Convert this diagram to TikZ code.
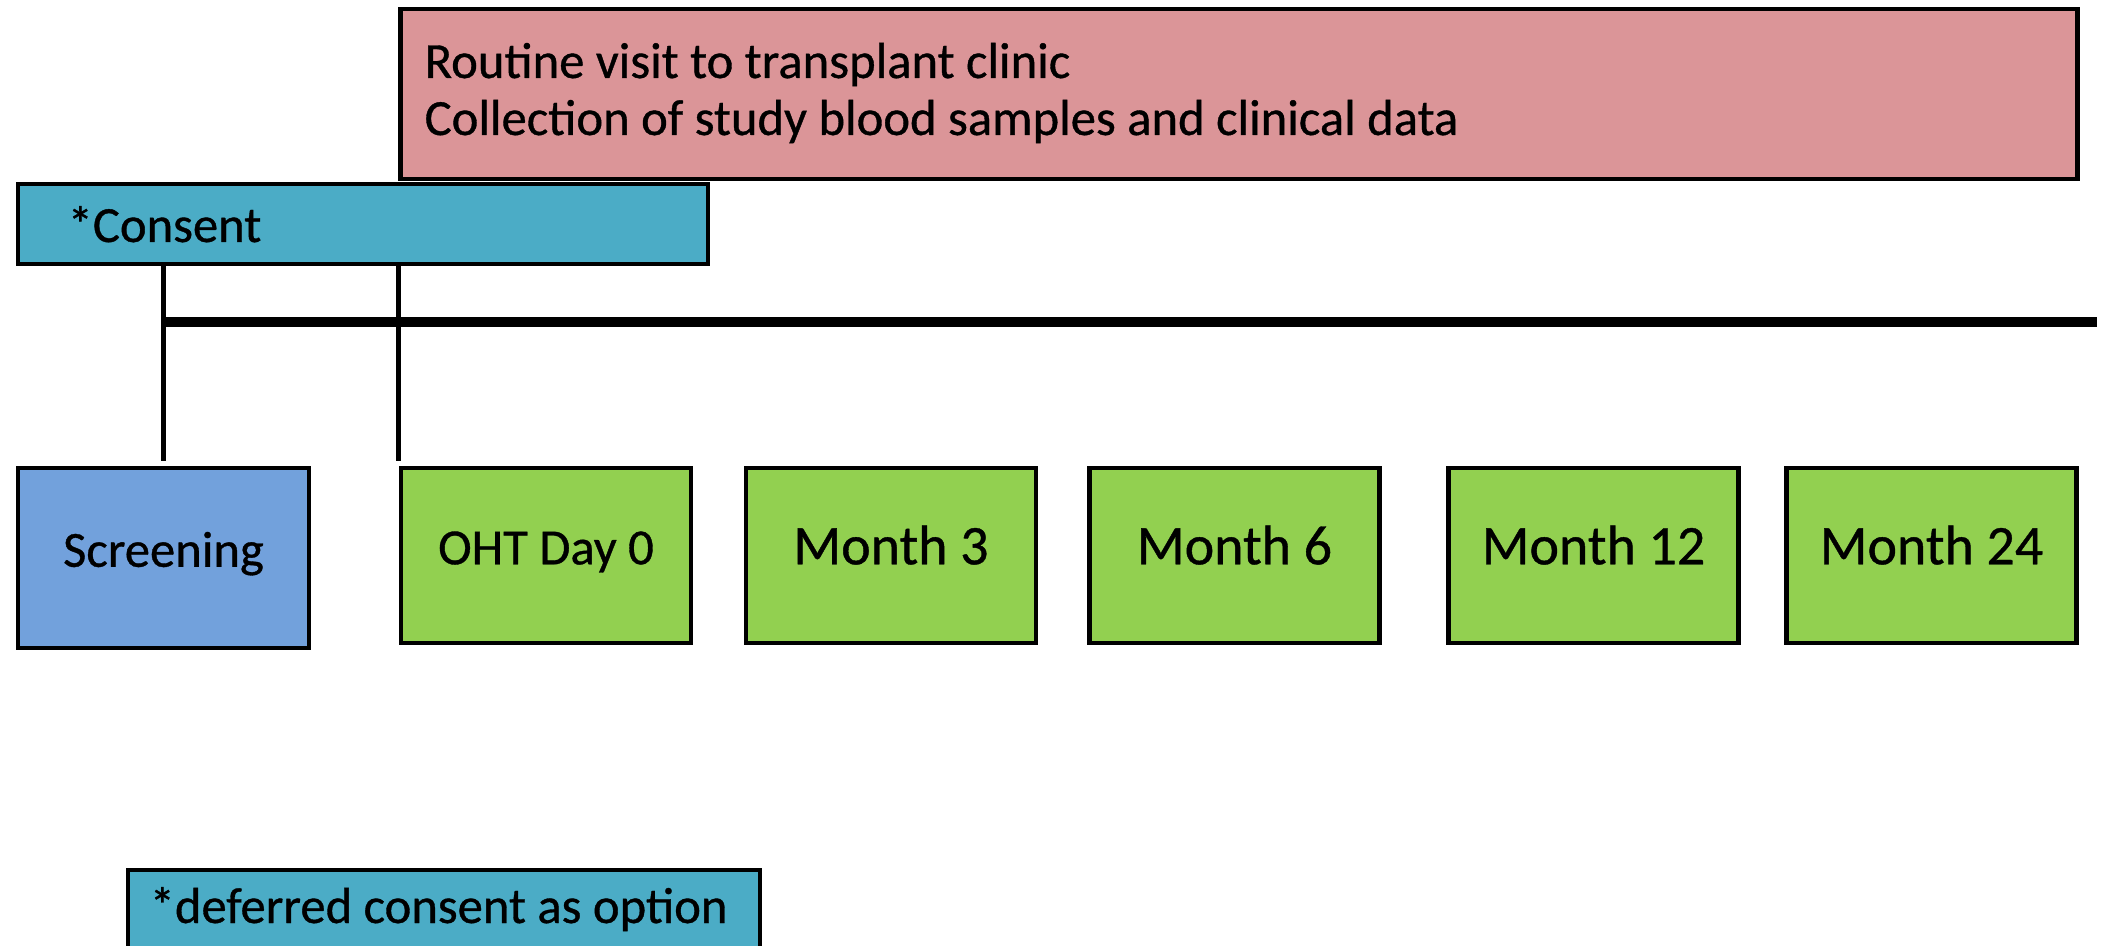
\documentclass[tikz,border=0pt]{standalone}
\usepackage{fontspec}
\setmainfont{Carlito}[FakeBold=0.7]
\definecolor{pinkfill}{RGB}{219,149,152}
\definecolor{aquafill}{RGB}{75,172,198}
\definecolor{bluefill}{RGB}{114,161,220}
\definecolor{greenfill}{RGB}{146,208,80}
\begin{document}
\begin{tikzpicture}[x=0.01cm,y=-0.01cm,
  box/.style={draw=black, line width=1.3pt, inner sep=0pt, text height=0.5em, text depth=0pt},
  lbl/.style={inner sep=0pt, font=\fontsize{14.4pt}{17pt}\selectfont},
  visitbox/.style={box, fill=greenfill, minimum width=2.9cm, minimum height=1.75cm, font=\fontsize{15.9pt}{19pt}\selectfont},
  conn/.style={draw=black, line width=1.4pt},
  rail/.style={draw=black, line width=2.6pt}]
\useasboundingbox (0,0) rectangle (2105,946);
\clip (0,0) rectangle (2105,946);
% top bars
\node[box, fill=pinkfill, minimum width=16.76cm, minimum height=1.70cm] (visit) at (1239,94) {};
\node[lbl, anchor=base west] (visitA) at (424,78) {Routine visit to transplant clinic};
\node[lbl, anchor=base west] (visitB) at (424,135) {Collection of study blood samples and clinical data};
\node[box, fill=aquafill, minimum width=6.90cm, minimum height=0.80cm] (consent) at (363,224) {};
\node[lbl, anchor=base west] (consentT) at (67,242) {*Consent};
% visit boxes
\node[box, fill=bluefill, minimum width=2.91cm, minimum height=1.80cm, font=\fontsize{14.4pt}{17pt}\selectfont] (screening) at (163.5,558) {Screening};
\node[box, fill=greenfill, minimum width=2.90cm, minimum height=1.75cm, font=\fontsize{14.4pt}{17pt}\selectfont] (oht) at (546,555.5) {OHT Day 0};
\node[visitbox] (m3) at (891,555.5) {Month 3};
\node[visitbox] (m6) at (1234.5,555.5) {Month 6};
\node[visitbox] (m12) at (1593.5,555.5) {Month 12};
\node[visitbox] (m24) at (1931.5,555.5) {Month 24};
% footnote
\node[box, fill=aquafill, minimum width=6.32cm, minimum height=0.90cm] (deferred) at (444,915) {};
\node[lbl, anchor=base west] (deferredT) at (149,923) {*deferred consent as option};
% connectors
\coordinate (railEnd) at (2097,322);
\draw[conn] (screening.north |- consent.south) -- ([yshift=0.05cm]screening.north);
\draw[conn] (oht.north west |- consent.south) -- ([yshift=0.05cm]oht.north west);
\draw[rail] (screening.north |- railEnd) -- (railEnd);
\end{tikzpicture}
\end{document}
